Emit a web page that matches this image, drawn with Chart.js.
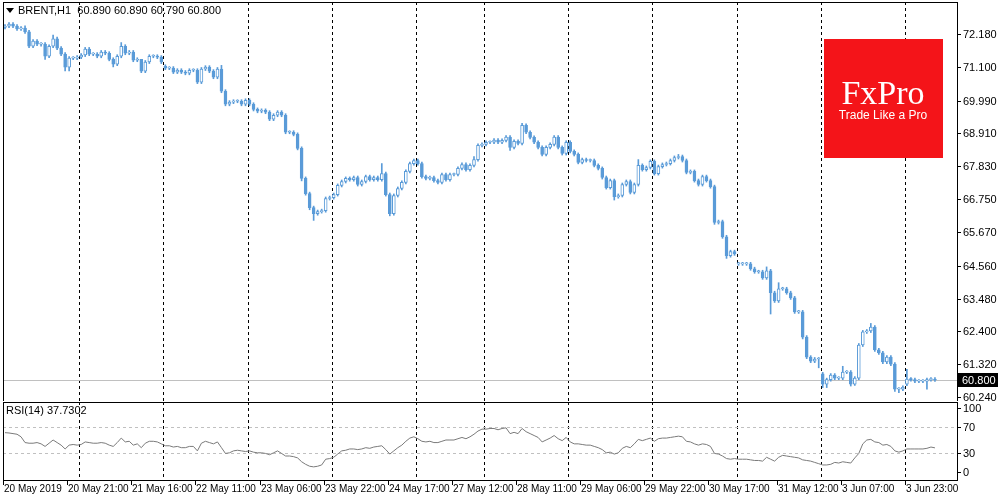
<!DOCTYPE html>
<html><head><meta charset="utf-8">
<script src="https://cdn.jsdelivr.net/npm/chart.js@4"></script>
<style>
html,body{margin:0;padding:0;background:#fff;width:1000px;height:500px;overflow:hidden}
canvas{position:absolute;left:0}
#main{top:0}#rsi{top:400px}
</style></head><body>
<canvas id="main" width="1000" height="401"></canvas>
<canvas id="rsi" width="1000" height="100"></canvas>
<script>
const closes=[72.44,72.51,72.44,72.35,72.38,72.25,71.78,71.95,71.85,71.85,71.45,71.78,72.02,71.72,71.52,71.09,71.39,71.39,71.42,71.49,
71.69,71.52,71.52,71.45,71.59,71.55,71.35,71.19,71.45,71.78,71.55,71.59,71.32,71.35,70.96,71.26,71.45,71.45,71.42,71.26,
71.06,71.06,70.93,70.99,70.93,70.89,70.99,70.99,70.60,71.03,71.09,70.96,70.76,71.03,70.30,69.87,69.94,69.97,69.97,69.87,
70.00,69.87,69.70,69.64,69.67,69.61,69.38,69.51,69.61,69.51,68.95,68.95,68.88,68.42,67.43,66.93,66.47,66.27,66.34,66.37,
66.77,66.80,66.90,67.20,67.33,67.43,67.39,67.46,67.23,67.33,67.49,67.39,67.46,67.39,67.59,66.90,66.27,66.87,67.10,67.30,
67.66,67.92,68.02,67.92,67.49,67.43,67.46,67.36,67.30,67.56,67.39,67.56,67.56,67.76,67.89,67.72,67.86,68.05,68.52,68.55,
68.62,68.62,68.69,68.62,68.68,68.79,68.45,68.65,68.58,69.18,68.95,68.78,68.62,68.45,68.22,68.45,68.55,68.79,68.45,68.25,
68.62,68.32,68.22,67.96,68.05,68.02,68.02,67.86,67.76,67.46,67.13,67.36,66.83,66.87,67.23,67.33,66.97,67.23,67.86,67.72,
67.79,67.99,67.59,67.82,67.89,67.92,68.02,68.12,68.15,68.02,67.63,67.66,67.36,67.23,67.49,67.36,67.16,65.98,66.01,65.51,
64.89,65.02,64.95,64.62,64.62,64.62,64.46,64.36,64.36,64.16,64.39,63.67,63.40,63.80,63.80,63.67,63.50,63.04,63.04,62.21,
61.55,61.42,61.49,61.49,60.66,60.81,60.96,60.86,60.86,61.06,61.06,60.66,60.86,61.95,62.38,62.41,62.54,61.79,61.69,61.39,
61.55,61.32,60.50,60.50,60.56,60.83,60.81,60.76,60.76,60.76,60.81,60.83,60.80];
const firstOpen=72.40;
const openGaps={40:71.12,204:61.00,225:60.66,183:64.62};
const highWicks={5:72.45,12:72.15,13:72.08,29:71.90,34:71.32,54:71.15,94:67.92,117:68.15,129:69.24,158:68.05,168:68.22,190:64.52,193:64.00,209:61.25,213:62.0,216:62.66,225:61.15};
const lowWicks={9:71.78,10:71.35,15:70.97,16:70.97,27:71.10,48:70.55,74:67.35,76:66.40,77:66.05,96:66.20,126:68.35,152:66.72,177:65.92,180:64.80,191:62.97,199:62.15,203:61.20,204:60.55,205:60.55,211:60.60,212:60.62,222:60.42,223:60.38,230:60.50};
const rsiValues=[61.5,61,60,59,55,46,45,45,46,44,40,45,50,46,42,36,42,43,42,43,
47,46,45,45,46,45,42,40,46,53,47,48,42,44,38,45,48,48,47,44,
41,41,39,40,38,38,40,40,33,45,48,46,44,47,38,29,30,33,34,33,
32,33,31,30,30,29,27,30,33,29,25,25,24,22,16,12,9,8,9,11,
20,21,23,28,33,34,36,36,35,36,38,37,39,40,41,35,28,33,38,42,
48,53,55,52,48,47,48,46,46,48,50,50,50,52,54,52,55,59,64,67,
67,68,68,66,68,69,60,62,60,68,63,60,57,54,47,50,53,57,52,49,
54,47,44,44,43,42,42,40,38,35,30,31,28,30,37,40,38,44,51,49,
51,53,48,52,53,53,54,55,56,55,48,47,44,42,44,43,40,29,28,25,
21,20,21,20,20,20,19,18,18,17,23,20,17,23,26,25,24,23,22,19,
18,17,15,13,11,11,12,15,14,16,15,14,22,29,44,50,51,47,46,42,
43,40,33,31,33,36,36,36,36,36,37,39,37.73];
const priceTicks=[72.180,71.100,69.990,68.910,67.830,66.750,65.670,64.560,63.480,62.400,61.320,60.240];
const rsiTicks=[100,70,30,0];
const dayBreaks=[19,40,61,82,103,120,141,162,183,204,225];
const timeLabels=["20 May 2019","20 May 21:00","21 May 16:00","22 May 11:00","23 May 06:00","23 May 22:00","24 May 17:00","27 May 12:00","28 May 11:00","29 May 06:00","29 May 22:00","30 May 17:00","31 May 12:00","3 Jun 07:00","3 Jun 23:00"];
const timeLabelIdx=[0,16,32,48,64,80,96,112,128,144,160,176,193,209,225];
const lastPrice=60.800;
const SLOTS=238;

const BLUE='#5a9bd8';
const labels=[...Array(SLOTS).keys()];
const opens=closes.map((c,i)=>openGaps[i]!==undefined?openGaps[i]:(i===0?firstOpen:closes[i-1]));
const bodies=closes.map((c,i)=>[opens[i],c]);
const wicks=closes.map((c,i)=>{const t=Math.max(opens[i],c),b=Math.min(opens[i],c);
 return [lowWicks[i]!==undefined?lowWicks[i]:b-0.05, highWicks[i]!==undefined?highWicks[i]:t+0.05];});
const bodyFill=closes.map((c,i)=>c>=opens[i]?'#ffffff':BLUE);
const FONT='"Liberation Sans", Arial, sans-serif';
Chart.defaults.font.family=FONT;Chart.defaults.font.size=11;Chart.defaults.color='#000';

function dashes(ctx,chart){const a=chart.chartArea,x=chart.scales.x;ctx.save();ctx.strokeStyle='#000';ctx.lineWidth=1;ctx.setLineDash([3,3]);
 dayBreaks.forEach(i=>{const px=Math.round(x.getPixelForValue(i)-2)+0.5;ctx.beginPath();ctx.moveTo(px,a.top);ctx.lineTo(px,a.bottom);ctx.stroke();});ctx.restore();}
function frame(ctx,chart,ticks,fmt){const a=chart.chartArea,y=chart.scales.y;ctx.save();ctx.strokeStyle='#000';ctx.lineWidth=1;ctx.strokeRect(a.left+0.5,a.top+0.5,a.right-a.left,a.bottom-a.top);
 ctx.fillStyle='#000';ctx.font='11px '+FONT;ctx.textBaseline='middle';ctx.textAlign='left';
 ticks.forEach(v=>{const py=Math.round(y.getPixelForValue(v))+0.5;ctx.beginPath();ctx.moveTo(a.right,py);ctx.lineTo(a.right+4,py);ctx.stroke();ctx.fillText(fmt(v),a.right+6,py);});ctx.restore();}

const mainPlugin={id:'mainp',
 beforeDatasetsDraw(chart){const ctx=chart.ctx,a=chart.chartArea,y=chart.scales.y;dashes(ctx,chart);
  const py=Math.round(y.getPixelForValue(lastPrice))+0.5;ctx.save();ctx.strokeStyle='#c0c0c0';ctx.beginPath();ctx.moveTo(a.left,py);ctx.lineTo(a.right,py);ctx.stroke();ctx.restore();
  ctx.save();ctx.fillStyle='#f41419';ctx.fillRect(824,39,119,119);ctx.fillStyle='#fff';ctx.textAlign='center';ctx.textBaseline='alphabetic';
  ctx.font='34px "Liberation Serif", "DejaVu Serif", serif';ctx.fillText('FxPro',883,104);
  ctx.font='12px '+FONT;ctx.fillText('Trade Like a Pro',883,119);ctx.restore();},
 afterDraw(chart){const ctx=chart.ctx,a=chart.chartArea,y=chart.scales.y;frame(ctx,chart,priceTicks,v=>v.toFixed(3));
  ctx.save();ctx.font='11px '+FONT;ctx.fillStyle='#000';ctx.textBaseline='middle';
  ctx.fillText('BRENT,H1  60.890 60.890 60.790 60.800',18,11);
  ctx.beginPath();ctx.moveTo(6,8);ctx.lineTo(14,8);ctx.lineTo(10,13);ctx.closePath();ctx.fill();
  const py=Math.round(y.getPixelForValue(lastPrice));ctx.fillRect(958,py-7,40,14);ctx.fillStyle='#fff';ctx.fillText(lastPrice.toFixed(3),962,py+0.5);ctx.restore();}};

new Chart(document.getElementById('main'),{type:'bar',
 data:{labels,datasets:[
  {data:bodies,backgroundColor:bodyFill,borderColor:BLUE,borderWidth:1,borderSkipped:false,barThickness:3,minBarLength:1,order:1},
  {data:wicks,backgroundColor:BLUE,borderWidth:0,barThickness:1,order:2}]},
 options:{responsive:false,animation:false,devicePixelRatio:1,
  layout:{padding:{left:3,top:2,right:0,bottom:0}},
  datasets:{bar:{grouped:false}},
  plugins:{legend:{display:false},tooltip:{enabled:false}},
  scales:{x:{display:false,offset:true,grid:{display:false}},
   y:{position:'right',min:60.108,max:73.235,grid:{display:false},border:{display:false},
    afterFit(s){s.width=43;},ticks:{display:false}}}},
 plugins:[mainPlugin]});

const rsiPlugin={id:'rsip',
 beforeDatasetsDraw(chart){const ctx=chart.ctx,a=chart.chartArea,y=chart.scales.y;dashes(ctx,chart);
  ctx.save();ctx.strokeStyle='#c0c0c0';ctx.setLineDash([3,3]);[70,30].forEach(v=>{const py=Math.round(y.getPixelForValue(v))+0.5;ctx.beginPath();ctx.moveTo(a.left,py);ctx.lineTo(a.right,py);ctx.stroke();});ctx.restore();},
 afterDraw(chart){const ctx=chart.ctx,a=chart.chartArea,x=chart.scales.x;frame(ctx,chart,rsiTicks,v=>String(v));
  ctx.save();ctx.font='11px '+FONT;ctx.fillStyle='#000';ctx.textBaseline='middle';ctx.fillText('RSI(14) 37.7302',6,11);
  ctx.font='10px '+FONT;ctx.strokeStyle='#000';
  timeLabelIdx.forEach((i,k)=>{const px=Math.round(x.getPixelForValue(i)-2);ctx.beginPath();ctx.moveTo(px+0.5,a.bottom);ctx.lineTo(px+0.5,a.bottom+5);ctx.stroke();ctx.fillText(timeLabels[k],px+1,89);});
  ctx.restore();}};

new Chart(document.getElementById('rsi'),{type:'line',
 data:{labels,datasets:[{data:rsiValues,borderColor:'#7a7a7a',borderWidth:1,pointRadius:0,tension:0}]},
 options:{responsive:false,animation:false,devicePixelRatio:1,
  layout:{padding:{left:3,top:2,right:0,bottom:20}},
  plugins:{legend:{display:false},tooltip:{enabled:false}},
  scales:{x:{display:false,offset:true,grid:{display:false}},
   y:{position:'right',min:-12.5,max:109.4,grid:{display:false},border:{display:false},
    afterFit(s){s.width=43;},ticks:{display:false}}}},
 plugins:[rsiPlugin]});
</script></body></html>
